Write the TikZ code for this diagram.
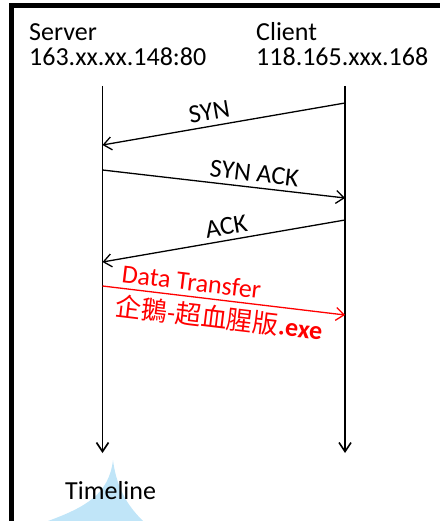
\documentclass[tikz,border=0pt]{standalone}
\usepackage{fontspec}
\setmainfont{Carlito}
\newfontfamily\cjk{Noto Sans CJK TC}
\usetikzlibrary{arrows.meta}
\definecolor{spire}{RGB}{192,229,248}
\begin{document}
\begin{tikzpicture}[x=1pt,y=-1pt,
  every node/.style={font=\fontsize{26}{26}\selectfont, inner sep=0pt},
  lifeline/.style={line width=1.9pt, -{Straight Barb[length=9pt,width=12pt,line width=1.6pt]}},
  msg/.style={line width=1.3pt},
  tipend/.style={-{Straight Barb[length=8pt,width=13pt,line width=1.3pt]}},
  tipstart/.style={{Straight Barb[length=8pt,width=13pt,line width=1.3pt]}-},
  datacol/.style={red}]
\useasboundingbox (0,0) rectangle (440,521);

% light blue spire behind the timeline caption
\fill[spire] (48,521) .. controls (86,507) and (109,494) .. (113,460)
  .. controls (117,492) and (131,509) .. (143,521) -- cycle;

% frame: top and left edges
\draw[line width=5pt, line join=miter] (11.5,521) -- (11.5,5.5) -- (440,5.5);

% host labels
\node[anchor=base west] (srvname) at (29,41) {Server};
\node[anchor=base west] (srvaddr) at (29,66) {163.xx.xx.148:80};
\node[anchor=base west] (cliname) at (256,41) {Client};
\node[anchor=base west] (cliaddr) at (256,66) {118.165.xxx.168};

% lifelines
\coordinate (stop) at (102.5,86);
\coordinate (sbot) at (102.5,453);
\coordinate (ctop) at (345,86);
\coordinate (cbot) at (345,453);
\draw[lifeline] (stop) -- (sbot);
\draw[lifeline] (ctop) -- (cbot);

% message end points
\coordinate (c1) at (345,103);
\coordinate (s1) at (102.5,145);
\coordinate (s2) at (102.5,170);
\coordinate (c2) at (345,198);
\coordinate (c3) at (345,220);
\coordinate (s3) at (102.5,262);
\coordinate (s4) at (102.5,286);
\coordinate (c4) at (345,315);

% handshake
\draw[msg, tipstart] (s1) -- (c1)
  node[pos=0.45, sloped, above=5pt] (synlbl) {SYN};
\draw[msg, tipend] (s2) -- (c2)
  node[pos=0.62, sloped, above=5pt] (synacklbl) {SYN ACK};
\draw[msg, tipstart] (s3) -- (c3)
  node[pos=0.52, sloped, above=5pt] (acklbl) {ACK};

% data transfer
\draw[msg, datacol, tipend] (s4) -- (c4)
  node[pos=0.36, sloped, above=5pt, text=red] (datalbl) {Data Transfer}
  node[pos=0.49, sloped, below=5pt, text=red] (filelbl) {{\cjk 企鵝}-{\cjk 超血腥版}\textbf{.exe}};

% caption
\node[anchor=base west] (tline) at (65,499) {Timeline};
\end{tikzpicture}
\end{document}
